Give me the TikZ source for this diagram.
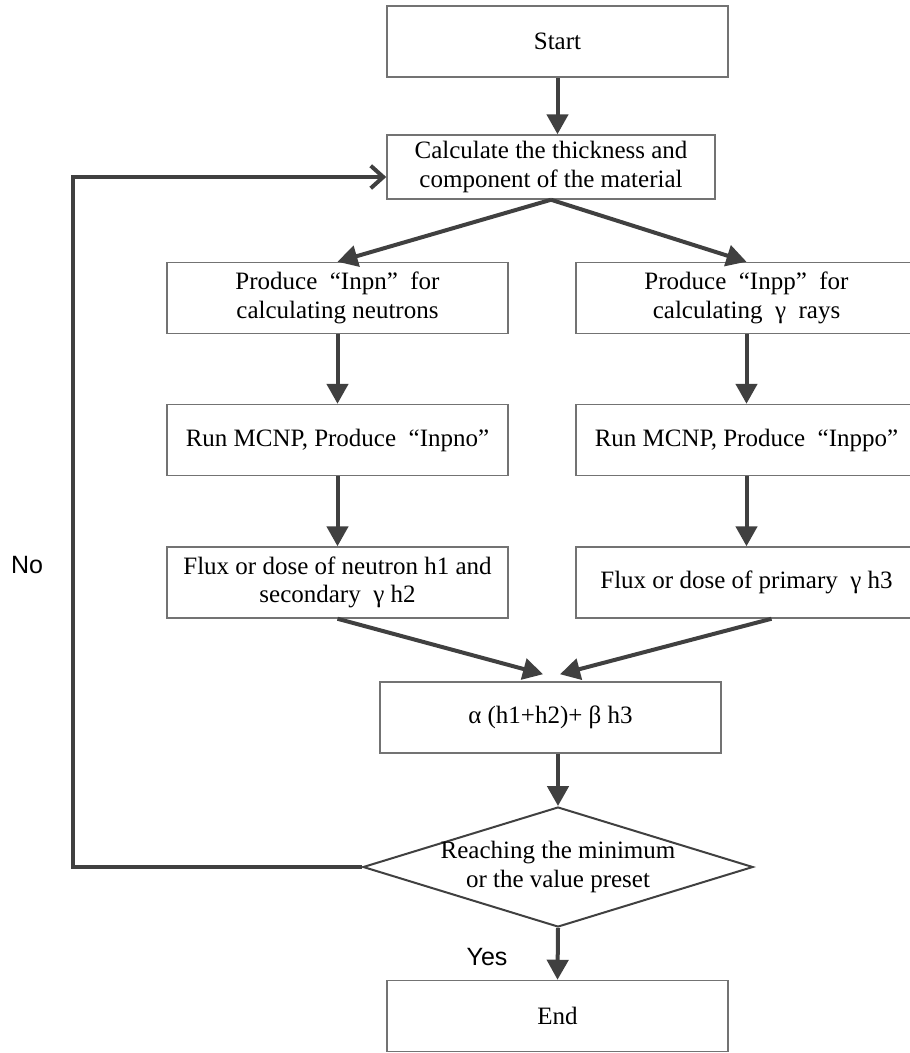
\documentclass[tikz,border=0pt]{standalone}
\usepackage{fontspec}
\setmainfont{Liberation Serif}
\newfontfamily\answerfont{Liberation Sans}
\usepackage{tikz}
\usetikzlibrary{arrows.meta}
\usetikzlibrary{shapes.geometric}
\usetikzlibrary{positioning}
\usetikzlibrary{calc}

\begin{document}
\begin{tikzpicture}[x=0.4pt, y=-0.4pt, ->, >={Triangle[length=8pt,width=8.5pt]}, line width=1.6pt, draw=black!75, font=\fontsize{10}{11.5}\selectfont]
            \tikzstyle{block}=[draw=black!55, line width=0.6pt, fill=white, minimum width=136.4pt, minimum height=28.4pt, align=center, inner sep=2pt]
            \tikzstyle{check}=[diamond, draw=black!75, line width=0.8pt, aspect=3.25, minimum width=156pt, minimum height=48pt, align=center, inner sep=-1.5pt]
            \tikzstyle{answer}=[font=\answerfont\fontsize{10}{12}\selectfont]

            \useasboundingbox (0,0) rectangle (909,1053);

            \node[block]                           (start)  at (557.5,41.5) {Start};
            \node[block, minimum width=131.2pt, minimum height=25.6pt] (calc) at (551,167) {Calculate the thickness and\\component of the material};
            \node[block]                           (inpn)   at (337.5,298)  {Produce~ “Inpn”~ for\\calculating neutrons};
            \node[block]                           (inpp)   at (746.5,298)  {Produce~ “Inpp”~ for\\calculating~ γ~ rays};
            \node[block]                           (inpno)  at (337.5,440)  {Run MCNP, Produce~ “Inpno”};
            \node[block]                           (inppo)  at (746.5,440)  {Run MCNP, Produce~ “Inppo”};
            \node[block]                           (flux1)  at (337.5,582.5) {Flux or dose of neutron h1 and\\secondary~ γ h2};
            \node[block]                           (flux3)  at (746.5,582.5) {Flux or dose of primary~ γ h3};
            \node[block]                           (sum)    at (550.5,717.5) {α (h1+h2)+ β h3};
            \node[check]                           (dec)    at (558,867)    {Reaching the minimum\\or the value preset};
            \node[block]                           (finish) at (557.5,1016) {End};

            \node[answer] (no)  at (27,565)  {No};
            \node[answer] (yes) at (487,957) {Yes};
            \coordinate (loop) at (73,177);

            \draw (start.south) -- (start.south |- calc.north);
            \draw (calc.south) -- (inpn.north);
            \draw (calc.south) -- (inpp.north);
            \draw (inpn.south) -- (inpno.north);
            \draw (inpp.south) -- (inppo.north);
            \draw (inpno.south) -- (flux1.north);
            \draw (inppo.south) -- (flux3.north);
            \draw (flux1.south) -- ($(sum.north)+(-7.5,-7)$);
            \draw ($(flux3.south)+(25,0)$) -- ($(sum.north)+(9.5,-7)$);
            \draw (sum.south -| dec.north) -- (dec.north);
            \draw (dec.south) -- (finish.north);
            \draw[-{Straight Barb[length=5pt,width=9pt]}] (dec.west) -| (loop) -- (loop -| calc.west);
          \end{tikzpicture}
\end{document}
